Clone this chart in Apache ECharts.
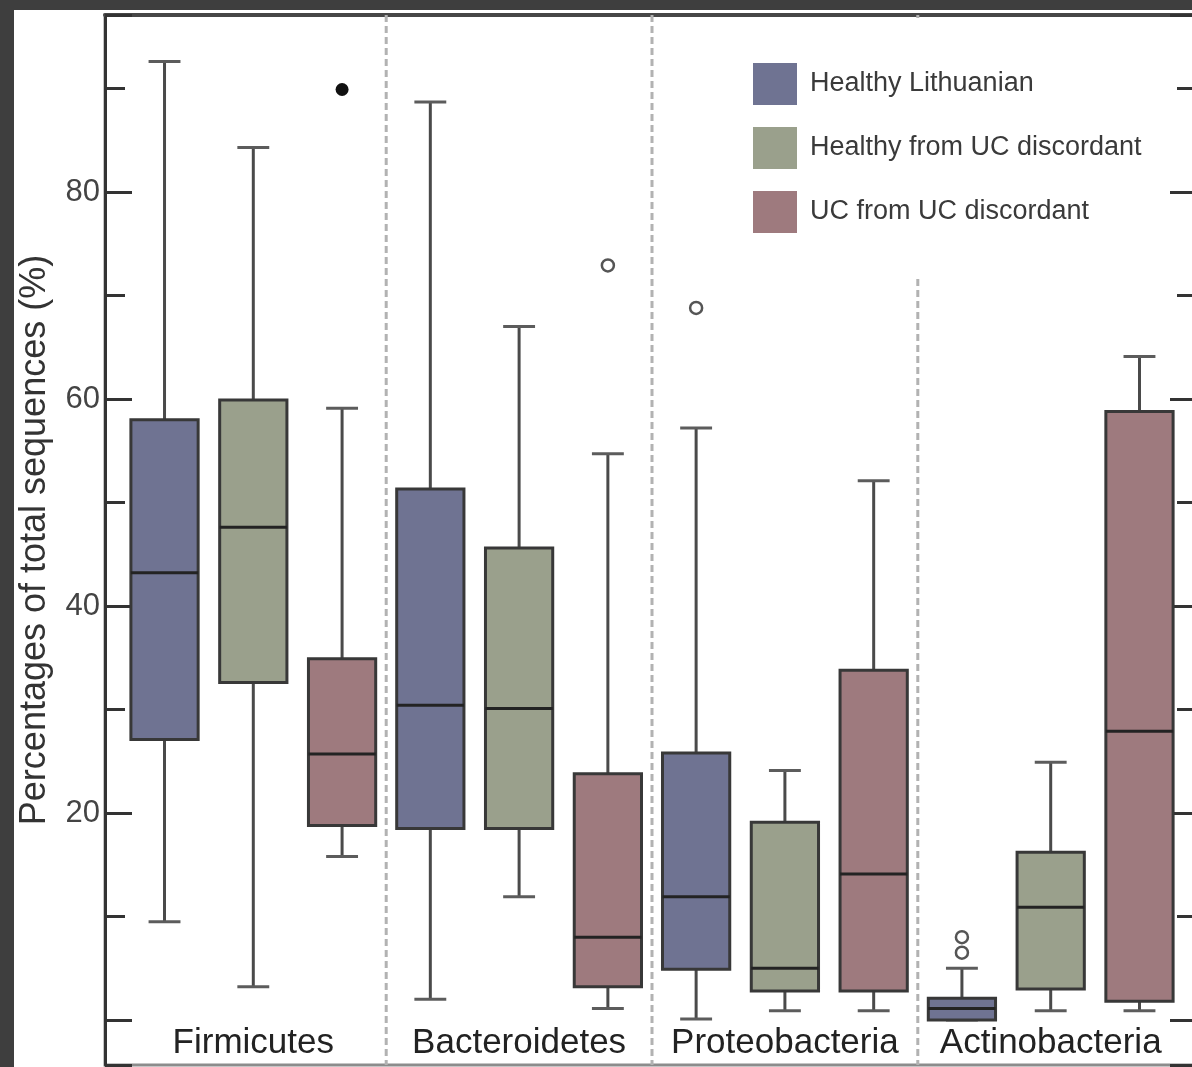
<!DOCTYPE html>
<html>
<head>
<meta charset="utf-8">
<title>Phylum composition by group</title>
<script src="https://cdn.jsdelivr.net/npm/echarts@6/dist/echarts.min.js"></script>
<style>
  html, body { margin: 0; padding: 0; width: 1192px; height: 1067px; overflow: hidden; background: #3e3e3e; }
  #chart { position: absolute; left: 14px; top: 10px; width: 1178px; height: 1057px; background: #ffffff; }
</style>
</head>
<body>
<div id="chart"></div>
<script>
// Phyla on the x axis
const categories = ['Firmicutes', 'Bacteroidetes', 'Proteobacteria', 'Actinobacteria'];
const groupNames = ['Healthy Lithuanian', 'Healthy from UC discordant', 'UC from UC discordant'];

// Five-number summaries per phylum: [min, Q1, median, Q3, max] (% of total sequences)
const healthyLithuanian = [
  [9.5, 27.1, 43.2, 58.0, 92.6],
  [2.0, 18.5, 30.4, 51.3, 88.7],
  [0.1, 4.9, 11.9, 25.8, 57.2],
  [0.0, 0.0, 1.1, 2.1, 5.0]
];
const healthyDiscordant = [
  [3.2, 32.6, 47.6, 59.9, 84.3],
  [11.9, 18.5, 30.1, 45.6, 67.0],
  [0.9, 2.8, 5.0, 19.1, 24.1],
  [0.9, 3.0, 10.9, 16.2, 24.9]
];
const ucDiscordant = [
  [15.8, 18.8, 25.7, 34.9, 59.1],
  [1.1, 3.2, 8.0, 23.8, 54.7],
  [0.9, 2.8, 14.1, 33.8, 52.1],
  [0.9, 1.8, 27.9, 58.8, 64.1]
];

// Outliers (open circles) and extreme values (filled circles)
const lithuanianOutliers = [['Proteobacteria', 68.8], ['Actinobacteria', 6.5], ['Actinobacteria', 8.0]];
const ucOutliers = [['Bacteroidetes', 72.9]];
const ucExtremes = [['Firmicutes', 89.9]];

// Labelled ticks on the value axis
const yTickLabels = [20, 40, 60, 80];

const FONT = "'Liberation Sans', Arial, Helvetica, sans-serif";
const FILLS = ['#6f7392', '#9aa08c', '#9e7a7e'];
const SLOTS = [-0.334, 0, 0.334];      // box centre offsets inside a band (fraction of band)
const BOX_WIDTH = 0.253;               // box width as fraction of band
const CAP_WIDTH = 0.12;                // whisker cap width as fraction of band
const Y_SCALE = { min: -4.35, max: 97.1, minInterval: 20, maxInterval: 20, splitNumber: 5 };

function boxRenderer(slot, fill) {
  return function (params, api) {
    const cat = api.value(0);
    const band = api.size([1, 0])[0];
    const cx = api.coord([cat, 0])[0] + slot * band;
    const y = (d) => api.coord([cat, api.value(d)])[1];
    const yMin = y(1), yQ1 = y(2), yMed = y(3), yQ3 = y(4), yMax = y(5);
    const half = band * BOX_WIDTH / 2;
    const cap = band * CAP_WIDTH / 2;
    const whisker = { stroke: '#4a4a4a', lineWidth: 3 };
    const capStyle = { stroke: '#5c5c5c', lineWidth: 3 };
    return {
      type: 'group',
      children: [
        { type: 'line', shape: { x1: cx, y1: yQ3, x2: cx, y2: yMax }, style: whisker },
        { type: 'line', shape: { x1: cx, y1: yQ1, x2: cx, y2: yMin }, style: whisker },
        { type: 'line', shape: { x1: cx - cap, y1: yMax, x2: cx + cap, y2: yMax }, style: capStyle },
        { type: 'line', shape: { x1: cx - cap, y1: yMin, x2: cx + cap, y2: yMin }, style: capStyle },
        { type: 'rect', shape: { x: cx - half, y: yQ3, width: 2 * half, height: yQ1 - yQ3 },
          style: { fill: fill, stroke: '#383838', lineWidth: 3 } },
        { type: 'line', shape: { x1: cx - half, y1: yMed, x2: cx + half, y2: yMed },
          style: { stroke: '#232323', lineWidth: 3 } }
      ]
    };
  };
}

function pointRenderer(slot, filled) {
  return function (params, api) {
    const cat = api.value(0);
    const band = api.size([1, 0])[0];
    const p = api.coord([cat, api.value(1)]);
    return {
      type: 'circle',
      shape: { cx: p[0] + slot * band, cy: p[1], r: filled ? 6.5 : 6 },
      style: filled ? { fill: '#111' } : { fill: '#fff', stroke: '#555', lineWidth: 2.5 }
    };
  };
}

function separatorRenderer(params, api) {
  const cat = api.value(0);
  const band = api.size([1, 0])[0];
  const x = api.coord([cat, 0])[0] - band / 2;
  const cs = params.coordSys;
  return {
    type: 'line',
    shape: { x1: x, y1: cs.y, x2: x, y2: cs.y + cs.height },
    style: { stroke: '#b2b2b2', lineWidth: 3, lineDash: [7, 4] }
  };
}

function boxSeries(name, values, idx) {
  return {
    name: name,
    type: 'custom',
    xAxisIndex: 0, yAxisIndex: 0,
    z: 3,
    itemStyle: { color: FILLS[idx] },
    dimensions: ['phylum', 'min', 'Q1', 'median', 'Q3', 'max'],
    encode: { x: 0, y: [1, 2, 3, 4, 5] },
    data: categories.map((c, i) => [c].concat(values[i])),
    renderItem: boxRenderer(SLOTS[idx], FILLS[idx])
  };
}

function pointSeries(name, points, idx, filled) {
  return {
    name: name,
    type: 'custom',
    xAxisIndex: 0, yAxisIndex: 0,
    z: 4,
    dimensions: ['phylum', 'value'],
    encode: { x: 0, y: 1 },
    data: points,
    renderItem: pointRenderer(SLOTS[idx], filled)
  };
}

const tickLine = { color: '#333', width: 3 };

const option = {
  animation: false,
  backgroundColor: '#ffffff',
  textStyle: { fontFamily: FONT },
  legend: {
    data: groupNames,
    orient: 'vertical',
    left: 720,
    top: 8,
    padding: [45, 22, 45, 19],
    backgroundColor: '#ffffff',
    itemWidth: 44,
    itemHeight: 42,
    itemGap: 22,
    icon: 'rect',
    itemStyle: { borderWidth: 0 },
    textStyle: { fontSize: 27, color: '#3a3a3a', fontFamily: FONT, padding: [0, 0, 0, 8] },
    selectedMode: false,
    z: 10
  },
  grid: [
    { left: 106.4, right: 8.4, top: 5, bottom: 2, outerBoundsMode: 'none' },
    { left: 91, right: -5, top: 5, bottom: 2, outerBoundsMode: 'none', show: true,
      borderColor: '#8c8c8c', borderWidth: 3, backgroundColor: 'transparent' }
  ],
  xAxis: [
    {
      gridIndex: 0, type: 'category', data: categories, boundaryGap: true,
      axisLine: { show: false }, axisTick: { show: false }, splitLine: { show: false },
      axisLabel: { inside: true, interval: 0, margin: 4, fontSize: 35, color: '#222', fontFamily: FONT }
    },
    {
      gridIndex: 1, type: 'value', min: 0, max: 1, position: 'top',
      axisLine: { show: true, onZero: false, lineStyle: { color: '#474747', width: 4 } },
      axisTick: { show: false }, axisLabel: { show: false }, splitLine: { show: false }
    }
  ],
  yAxis: [
    Object.assign({ gridIndex: 0, type: 'value', show: false }, Y_SCALE),
    Object.assign({
      gridIndex: 1, type: 'value', position: 'left',
      name: 'Percentages of total sequences (%)',
      nameLocation: 'middle', nameGap: 52,
      nameTextStyle: { fontSize: 36, color: '#333', fontFamily: FONT },
      axisLine: { show: true, onZero: false, lineStyle: tickLine },
      axisTick: { show: true, inside: true, length: 27, lineStyle: tickLine },
      minorTick: { show: true, splitNumber: 2, length: 20, lineStyle: tickLine },
      splitLine: { show: false },
      axisLabel: {
        margin: 5, fontSize: 31, color: '#444', fontFamily: FONT,
        formatter: (v) => (yTickLabels.indexOf(Math.round(v * 1000) / 1000) >= 0 ? String(Math.round(v)) : '')
      }
    }, Y_SCALE),
    Object.assign({
      gridIndex: 1, type: 'value', position: 'right',
      axisLine: { show: false, onZero: false },
      axisTick: { show: true, inside: true, length: 27, lineStyle: tickLine },
      minorTick: { show: true, splitNumber: 2, length: 20, lineStyle: tickLine },
      splitLine: { show: false },
      axisLabel: { show: false }
    }, Y_SCALE)
  ],
  series: [
    {
      type: 'custom',
      xAxisIndex: 0, yAxisIndex: 0,
      z: 1,
      silent: true,
      dimensions: ['phylum', 'value'],
      encode: { x: 0, y: 1 },
      data: categories.slice(1).map((c) => [c, 0]),
      renderItem: separatorRenderer
    },
    boxSeries(groupNames[0], healthyLithuanian, 0),
    boxSeries(groupNames[1], healthyDiscordant, 1),
    boxSeries(groupNames[2], ucDiscordant, 2),
    pointSeries('Healthy Lithuanian outliers', lithuanianOutliers, 0, false),
    pointSeries('UC outliers', ucOutliers, 2, false),
    pointSeries('UC extremes', ucExtremes, 2, true)
  ]
};

const chart = echarts.init(document.getElementById('chart'), null, { renderer: 'canvas' });
chart.setOption(option);
</script>
</body>
</html>
